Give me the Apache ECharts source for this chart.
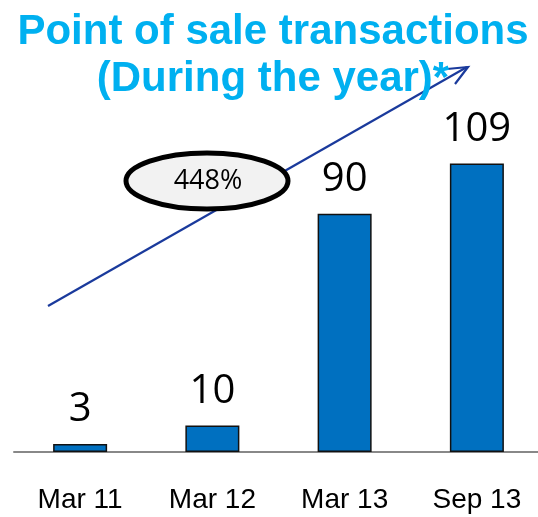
<!DOCTYPE html>
<html lang="en">
<head>
    <meta charset="UTF-8">
    <title>Point of sale transactions</title>
    <script src="https://cdn.jsdelivr.net/npm/echarts@6/dist/echarts.min.js"></script>
    <style>
        html, body { margin: 0; padding: 0; background: #fff; }
    </style>
</head>
<body>
    <div id="main" style="width: 538px;height:517px;"></div>
    <script>
        var categories = ['Mar 11', 'Mar 12', 'Mar 13', 'Sep 13'];
        var transactions = [3, 10, 90, 109];
        var growthLabel = '448%';

        var myChart = echarts.init(document.getElementById('main'));
        var option = {
            animation: false,
            title: {
                text: 'Point of sale transactions\n(During the year)*',
                left: 268,
                textAlign: 'center',
                top: 4,
                textStyle: {
                    color: '#00B0F0',
                    fontFamily: 'Liberation Sans',
                    fontWeight: 'bold',
                    fontSize: 42,
                    lineHeight: 47
                }
            },
            grid: { left: 14, width: 529, top: 108, bottom: 65, outerBoundsMode: 'none', containLabel: false },
            xAxis: {
                type: 'category',
                data: categories,
                axisTick: { show: false },
                axisLine: { lineStyle: { color: '#888', width: 2 } },
                axisLabel: {
                    color: '#000',
                    fontFamily: 'Liberation Sans',
                    fontSize: 28,
                    margin: 34
                }
            },
            yAxis: {
                type: 'value',
                min: 0,
                max: 130,
                show: false,
                splitLine: { show: false }
            },
            series: [
                {
                    type: 'bar',
                    data: transactions,
                    barWidth: 54,
                    z: 3,
                    itemStyle: { color: '#0070C0', borderColor: '#111', borderWidth: 1.5 },
                    label: {
                        show: true,
                        position: 'top',
                        distance: 14,
                        color: '#000',
                        fontFamily: 'Open Sans',
                        fontSize: 40
                    }
                }
            ],
            graphic: [
                {
                    type: 'polyline',
                    z: 1,
                    shape: { points: [[48, 306], [467, 67]] },
                    style: { stroke: '#1A3A9C', lineWidth: 2.2, fill: null }
                },
                {
                    type: 'polyline',
                    z: 1,
                    shape: { points: [[447, 69], [468, 67], [455, 84]] },
                    style: { stroke: '#1A3A9C', lineWidth: 2.2, fill: null }
                },
                {
                    type: 'ellipse',
                    z: 5,
                    shape: { cx: 207, cy: 181, rx: 81, ry: 28 },
                    style: { fill: '#F2F2F2', stroke: '#000', lineWidth: 5 }
                },
                {
                    type: 'text',
                    z: 6,
                    x: 208,
                    y: 181,
                    style: {
                        text: growthLabel,
                        fill: '#000',
                        fontFamily: 'Open Sans',
                        fontSize: 27,
                        align: 'center',
                        verticalAlign: 'middle'
                    }
                }
            ]
        };
        option && myChart.setOption(option);
    </script>
</body>
</html>
